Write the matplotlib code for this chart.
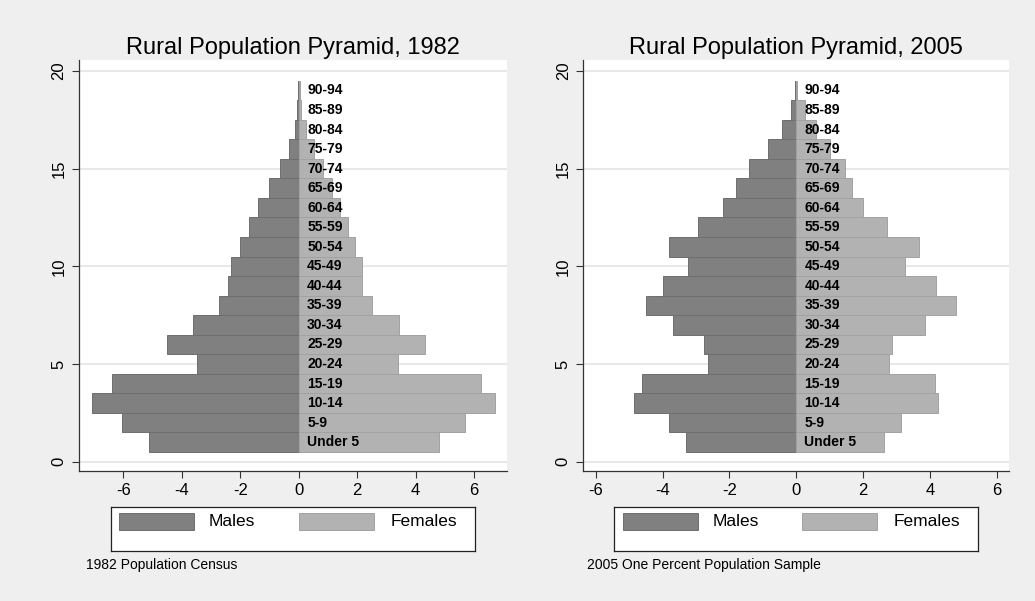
import matplotlib
matplotlib.use("Agg")
import matplotlib.pyplot as plt
from matplotlib.patches import Rectangle

plt.rcParams['font.family'] = ['Liberation Sans', 'DejaVu Sans']
plt.rcParams['axes.unicode_minus'] = False

# kelompok umur dan persentase penduduk (laki-laki negatif)
age_groups = ["Under 5", "5-9", "10-14", "15-19", "20-24", "25-29", "30-34",
              "35-39", "40-44", "45-49", "50-54", "55-59", "60-64", "65-69",
              "70-74", "75-79", "80-84", "85-89", "90-94"]

males_1982 = [-5.11, -6.04, -7.08, -6.38, -3.49, -4.52, -3.61, -2.72, -2.42,
              -2.33, -2.02, -1.72, -1.39, -1.03, -0.66, -0.35, -0.13, -0.06, -0.02]
females_1982 = [4.79, 5.70, 6.70, 6.23, 3.41, 4.30, 3.44, 2.51, 2.15, 2.15,
                1.92, 1.68, 1.42, 1.14, 0.82, 0.51, 0.25, 0.06, 0.03]

males_2005 = [-3.30, -3.80, -4.85, -4.61, -2.63, -2.75, -3.68, -4.50, -4.00,
              -3.25, -3.80, -2.93, -2.19, -1.80, -1.40, -0.84, -0.43, -0.14, -0.04]
females_2005 = [2.62, 3.15, 4.26, 4.17, 2.77, 2.86, 3.85, 4.78, 4.20, 3.27,
                3.67, 2.71, 1.99, 1.67, 1.45, 1.00, 0.60, 0.25, 0.04]

titles = ["Rural Population Pyramid, 1982", "Rural Population Pyramid, 2005"]
notes = ["1982 Population Census", "2005 One Percent Population Sample"]
x_ticks = [-6, -4, -2, 0, 2, 4, 6]
y_ticks = [0, 5, 10, 15, 20]

male_color = "#808080"
female_color = "#b2b2b2"
bg_color = "#efefef"

fig = plt.figure(figsize=(10.35, 6.01), dpi=100, facecolor=bg_color)

panels = [
    (males_1982, females_1982, [0.0763, 0.2168, 0.4135, 0.6834], (-7.52, 7.12),
     [0.107, 0.0832, 0.352, 0.0737], 0.0831),
    (males_2005, females_2005, [0.5636, 0.2168, 0.4116, 0.6834], (-6.37, 6.38),
     [0.5935, 0.0832, 0.3517, 0.0737], 0.5669),
]

pos = list(range(1, len(age_groups) + 1))

for i, (m, f, rect, xl, leg_rect, note_x) in enumerate(panels):
    ax = fig.add_axes(rect)
    ax.set_facecolor("white")
    ax.barh(pos, m, height=1.0, color=male_color, edgecolor="#6e6e6e", linewidth=0.7, zorder=2)
    ax.barh(pos, f, height=1.0, color=female_color, edgecolor="#a2a2a2", linewidth=0.7, zorder=2)
    for p, lab in zip(pos, age_groups):
        ax.annotate(lab, xy=(0, p), xytext=(6, 0), textcoords="offset points",
                    va="center", ha="left", fontsize=10, fontweight="bold", zorder=3)
    ax.set_xlim(*xl)
    ax.set_ylim(-0.46, 20.56)
    ax.set_xticks(x_ticks)
    ax.set_yticks(y_ticks)
    ax.set_yticklabels([str(t) for t in y_ticks], rotation=90, va="center")
    ax.tick_params(axis="both", labelsize=12, length=5, width=0.8, color="#333333")
    ax.tick_params(axis="y", pad=4)
    ax.grid(axis="y", color="#e8e8e8", linewidth=1.5, zorder=0)
    ax.set_axisbelow(True)
    for s in ["top", "right"]:
        ax.spines[s].set_visible(False)
    for s in ["left", "bottom"]:
        ax.spines[s].set_color("#333333")
        ax.spines[s].set_linewidth(0.9)
    ax.set_title(titles[i], fontsize=17, pad=4)

    # kotak legenda
    lax = fig.add_axes(leg_rect)
    lax.set_xlim(0, 1)
    lax.set_ylim(0, 1)
    lax.set_xticks([])
    lax.set_yticks([])
    lax.set_facecolor("white")
    for s in lax.spines.values():
        s.set_color("#222222")
        s.set_linewidth(0.9)
    lax.add_patch(Rectangle((0.023, 0.474), 0.206, 0.391, facecolor=male_color,
                            edgecolor="#6e6e6e", linewidth=0.7))
    lax.add_patch(Rectangle((0.517, 0.474), 0.206, 0.391, facecolor=female_color,
                            edgecolor="#a2a2a2", linewidth=0.7))
    lax.text(0.27, 0.67, "Males", fontsize=12.5, va="center", ha="left")
    lax.text(0.767, 0.67, "Females", fontsize=12.5, va="center", ha="left")

    fig.text(note_x, 0.06, notes[i], fontsize=10, va="center", ha="left")

fig.savefig("out.png", dpi=100, facecolor=bg_color)
